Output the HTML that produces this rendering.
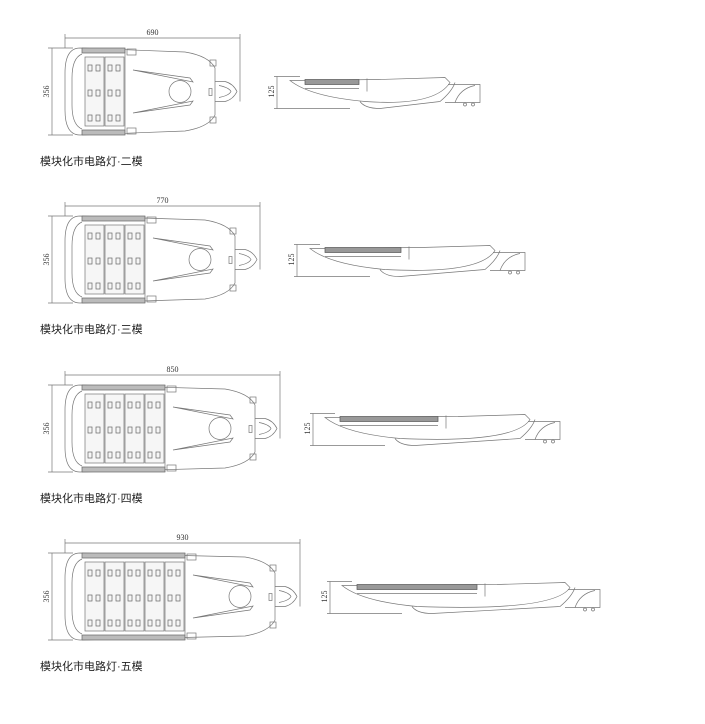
<!DOCTYPE html>
<html><head><meta charset="utf-8"><style>
body{margin:0;background:#fff;width:705px;height:724px;overflow:hidden}
svg{position:absolute;left:0;top:0}
text{font-family:"Liberation Serif",serif;font-size:8px;fill:#333}
.lb{font-family:"Liberation Sans","Noto Sans CJK SC",sans-serif;font-size:11px;fill:#222}
</style></head><body>
<svg id="s" width="705" height="724" viewBox="0 0 705 724" fill="none" stroke="#777" stroke-width="0.7"></svg>
<script>
const rows=[
 {y:48,n:2,dim:"690",dr:240,sx:290,se:470,sd:277,lab:"模块化市电路灯·二模"},
 {y:216,n:3,dim:"770",dr:260,sx:310,se:515,sd:297,lab:"模块化市电路灯·三模"},
 {y:385,n:4,dim:"850",dr:280,sx:325,se:550,sd:313,lab:"模块化市电路灯·四模"},
 {y:553,n:5,dim:"930",dr:300,sx:342,se:590,sd:330,lab:"模块化市电路灯·五模"}];
let h='';
for(const r of rows){
 const y=r.y,H=87,x0=65,hx=85+r.n*20,hr=hx+90,cy=y+H/2;
 h+=`<line x1="${x0}" y1="${y-10}" x2="${r.dr}" y2="${y-10}"/><line x1="${x0}" y1="${y-14}" x2="${x0}" y2="${y}"/><line x1="${r.dr}" y1="${y-14}" x2="${r.dr}" y2="${cy+10}"/>`;
 h+=`<text x="${(x0+r.dr)/2-6}" y="${y-13}" stroke="none">${r.dim}</text>`;
 h+=`<line x1="52" y1="${y}" x2="52" y2="${y+H}"/><line x1="48" y1="${y}" x2="${x0+8}" y2="${y}"/><line x1="48" y1="${y+H}" x2="${x0+8}" y2="${y+H}"/>`;
 h+=`<text transform="translate(49 ${cy+6}) rotate(-90)" stroke="none">356</text>`;
 h+=`<path d="M${x0+15} ${y} L${hr-30} ${y+4} Q${hr-6} ${y+8} ${hr} ${y+20} L${hr} ${y+H-20} Q${hr-6} ${y+H-8} ${hr-30} ${y+H-4} L${x0+15} ${y+H} Q${x0} ${y+H} ${x0} ${y+H-25} L${x0} ${y+25} Q${x0} ${y} ${x0+15} ${y}Z"/>`;
 h+=`<path d="M${x0+17} ${y+6} Q${x0+7} ${y+10} ${x0+7} ${y+30} L${x0+7} ${y+H-30} Q${x0+7} ${y+H-10} ${x0+17} ${y+H-6}"/>`;
 h+=`<rect x="${x0+17}" y="${y}" width="${hx-x0-17}" height="5" fill="#bbb" stroke="#666"/><rect x="${x0+17}" y="${y+H-5}" width="${hx-x0-17}" height="5" fill="#bbb" stroke="#666"/>`;
 h+=`<line x1="${hx}" y1="${y}" x2="${hx}" y2="${y+H}"/>`;
 for(let m=0;m<r.n;m++){const mx=85+m*20;
  h+=`<rect x="${mx}" y="${y+9}" width="19" height="${H-18}" fill="#f6f6f6"/>`;
  for(let k=0;k<3;k++)for(let c=0;c<2;c++)h+=`<rect x="${mx+3+c*8}" y="${y+17+k*25}" width="4" height="6" stroke="#666"/>`;}
 h+=`<rect x="${hx+2}" y="${y+1}" width="9" height="6"/><rect x="${hx+2}" y="${y+H-7}" width="9" height="6"/>`;
 h+=`<path d="M${hx+8} ${y+22} L${hr-22} ${y+34} L${hr-25} ${y+30} Z"/><path d="M${hx+8} ${y+H-22} L${hr-22} ${y+H-34} L${hr-25} ${y+H-30} Z"/>`;
 h+=`<circle cx="${hr-35}" cy="${cy}" r="11"/>`;
 h+=`<rect x="${hr-5}" y="${y+12}" width="6" height="6"/><rect x="${hr-5}" y="${y+H-18}" width="6" height="6"/><rect x="${hr-6}" y="${cy-3}" width="3" height="7"/>`;
 h+=`<path d="M${hr} ${cy-10} L${hr+10} ${cy-10} Q${hr+18} ${cy-8} ${hr+22} ${cy} Q${hr+18} ${cy+8} ${hr+10} ${cy+10} L${hr} ${cy+10}"/><path d="M${hr+4} ${cy-6} Q${hr+14} ${cy-4} ${hr+16} ${cy} Q${hr+14} ${cy+4} ${hr+4} ${cy+6}"/>`;
 h+=`<text class="lb" x="40" y="${y+H+30}" stroke="none">${r.lab}</text>`;
 const sy=cy-15,sx=r.sx,se=r.se,ln=sx+25+r.n*22;
 h+=`<line x1="${r.sd}" y1="${sy}" x2="${r.sd}" y2="${sy+32}"/><line x1="${r.sd-3}" y1="${sy}" x2="${sx+10}" y2="${sy}"/><line x1="${r.sd-3}" y1="${sy+32}" x2="${sx+60}" y2="${sy+32}"/>`;
 h+=`<text transform="translate(${r.sd-3} ${sy+21}) rotate(-90)" stroke="none">125</text>`;
 h+=`<path d="M${sx} ${sy+4} L${ln+20} ${sy+3} L${se-25} ${sy+1} L${se-20} ${sy+6} Q${se-35} ${sy+30} ${sx+75} ${sy+25} Q${sx+20} ${sy+20} ${sx} ${sy+4}Z"/>`;
 h+=`<rect x="${sx+15}" y="${sy+3}" width="${ln-sx-15}" height="5" fill="#999" stroke="#555"/>`;
 h+=`<line x1="${sx+15}" y1="${sy+12}" x2="${ln}" y2="${sy+12}"/><line x1="${ln+8}" y1="${sy+2}" x2="${ln+8}" y2="${sy+15}"/>`;
 h+=`<path d="M${sx+70} ${sy+25} Q${sx+75} ${sy+32} ${sx+90} ${sy+32} L${se-30} ${sy+25} Q${se-18} ${sy+15} ${se-15} ${sy+6}"/>`;
 h+=`<path d="M${se-22} ${sy+8} L${se+10} ${sy+8} L${se+10} ${sy+26} L${se-25} ${sy+26}"/><path d="M${se-15} ${sy+26} Q${se-10} ${sy+12} ${se+5} ${sy+9}"/>`;
 h+=`<circle cx="${se-5}" cy="${sy+28}" r="1.5"/><circle cx="${se+3}" cy="${sy+28}" r="1.5"/>`;
}
document.getElementById('s').innerHTML=h;
</script>
</body></html>
